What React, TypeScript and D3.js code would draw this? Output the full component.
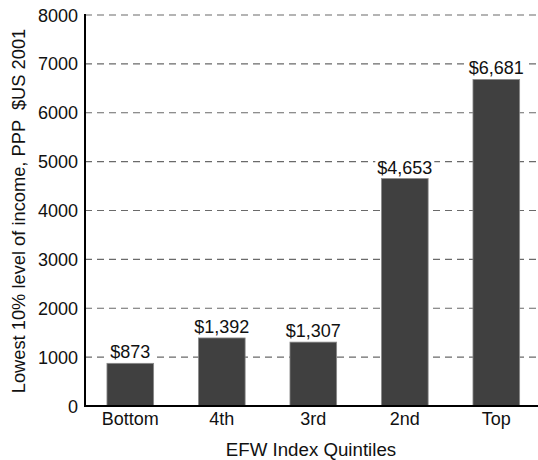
import React from "react";
import * as d3 from "d3";

const categories = ["Bottom", "4th", "3rd", "2nd", "Top"];
const values = [873, 1392, 1307, 4653, 6681];
const valueLabels = ["$873", "$1,392", "$1,307", "$4,653", "$6,681"];
const yTicks = [0, 1000, 2000, 3000, 4000, 5000, 6000, 7000, 8000];

const W = 538;
const H = 460;
const left = 85;
const top = 15;
const bottom = 406;
const right = 541.6;

// rough advance width of a label at 18px (digits and $ ≈ 0.556em, comma ≈ 0.278em)
const labelWidth = (s: string) =>
  s.split("").reduce((w, ch) => w + (ch === "," ? 5 : 10), 0);

export default function App() {
  const x = d3
    .scaleBand<string>()
    .domain(categories)
    .range([left, right])
    .paddingInner(0.49)
    .paddingOuter(0.24);
  const y = d3.scaleLinear().domain([0, 8000]).range([bottom, top]);
  const font = "'Liberation Sans', Arial, Helvetica, sans-serif";

  return (
    <svg
      width={W}
      height={H}
      style={{ position: "absolute", left: 0, top: 0, background: "#fff" }}
      fontFamily={font}
    >
      {/* dashed gridlines */}
      {yTicks
        .filter((t) => t > 0)
        .map((t) => (
          <line
            key={"g" + t}
            x1={left}
            x2={W}
            y1={y(t)}
            y2={y(t)}
            stroke="#6a6a6a"
            strokeWidth={1.2}
            strokeDasharray="7,5"
          />
        ))}
      {/* bars */}
      {categories.map((c, i) => (
        <rect
          key={c}
          x={x(c)}
          y={y(values[i])}
          width={x.bandwidth()}
          height={bottom - y(values[i])}
          fill="#404040"
          stroke="#8a8a8a"
          strokeWidth={0.8}
        />
      ))}
      {/* value labels on a white backing */}
      {categories.map((c, i) => {
        const cx = (x(c) as number) + x.bandwidth() / 2;
        const by = y(values[i]) - 5;
        const w = labelWidth(valueLabels[i]) + 4;
        return (
          <g key={"v" + c}>
            <rect x={cx - w / 2} y={by - 14} width={w} height={17} fill="#fff" />
            <text x={cx} y={by} textAnchor="middle" fontSize={18} fill="#111">
              {valueLabels[i]}
            </text>
          </g>
        );
      })}
      {/* axes */}
      <line x1={left} x2={left} y1={top - 1} y2={bottom + 1} stroke="#000" strokeWidth={2} />
      <line x1={left - 1} x2={W} y1={bottom} y2={bottom} stroke="#000" strokeWidth={2} />
      {yTicks.map((t) => (
        <text
          key={"t" + t}
          x={left - 7}
          y={y(t) + 6.5}
          textAnchor="end"
          fontSize={18}
          fill="#111"
        >
          {t}
        </text>
      ))}
      {categories.map((c) => (
        <text
          key={"c" + c}
          x={(x(c) as number) + x.bandwidth() / 2}
          y={425}
          textAnchor="middle"
          fontSize={18}
          fill="#111"
        >
          {c}
        </text>
      ))}
      <text x={311} y={456} textAnchor="middle" fontSize={18.7} fill="#111">
        EFW Index Quintiles
      </text>
      <text
        transform="translate(25, 211) rotate(-90)"
        textAnchor="middle"
        fontSize={18.3}
        fill="#111"
        style={{ whiteSpace: "pre" }}
      >
        {"Lowest 10% level of income, PPP  $US 2001"}
      </text>
    </svg>
  );
}
